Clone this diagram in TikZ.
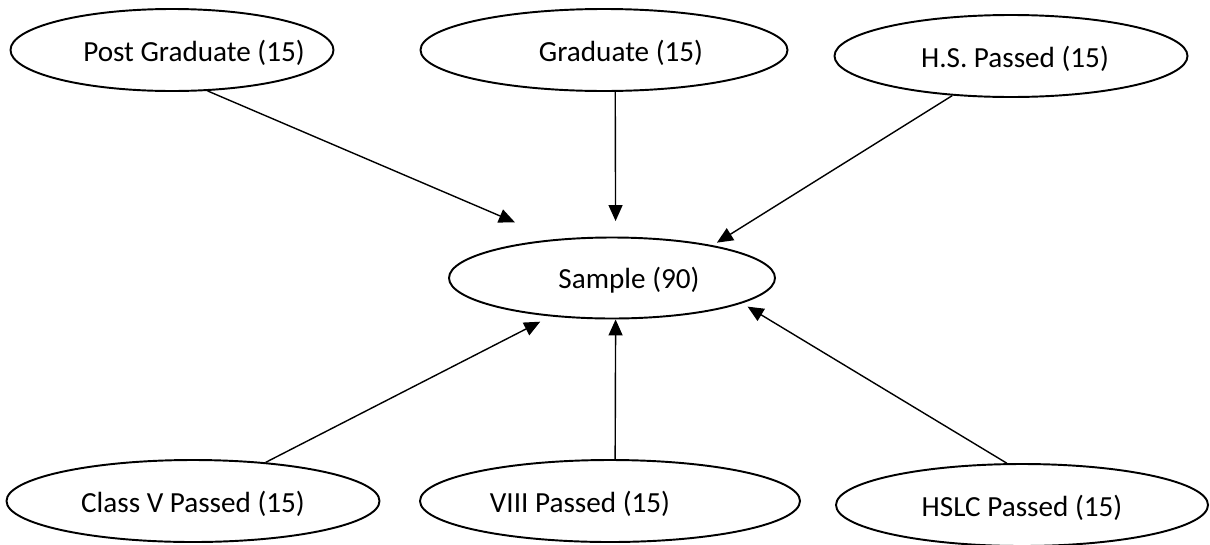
\documentclass[tikz,border=0pt]{standalone}
\usepackage{fontspec}
\setmainfont{Carlito}
\usetikzlibrary{shapes.geometric,arrows.meta}
\tikzset{
    level oval/.style = {
        shape = ellipse,
        draw  = black,
        line width = 1.1pt,
        minimum width = #1,
        minimum height = 1.64cm,
        inner sep = 0pt
    },
    sample oval/.style = {
        shape = ellipse,
        draw  = black,
        line width = 1.1pt,
        minimum width = 6.52cm,
        minimum height = 1.62cm,
        inner sep = 0pt
    },
    every label/.style = {yshift = -0.05cm}
}

\begin{document}
\begin{tikzpicture}[thick, font = \fontsize{16.6}{19}\selectfont, >={Triangle[length=3.2mm,width=2.8mm]}]
      \useasboundingbox (0,0) rectangle (24.2,-10.88);

      \node (pg) at (3.44,-1.0) [level oval = 6.46cm, label = {[xshift=0.44cm]center:Post Graduate (15)}] {};
      \node (gr) at (12.08,-1.0) [level oval = 7.34cm, label = {[xshift=0.34cm]center:Graduate (15)}] {};
      \node (hs) at (20.22,-1.12) [level oval = 7.06cm, label = {[xshift=0.08cm]center:H.S. Passed (15)}] {};

      \node (sa) at (12.24,-5.56) [sample oval, label = {[xshift=0.34cm]center:Sample (90)}] {};

      \node (cv) at (3.86,-10.02) [level oval = 7.46cm, label = {center:Class V Passed (15)}] {};
      \node (viii) at (12.2,-10.02) [level oval = 7.6cm, label = {[xshift=-0.6cm]center:VIII Passed (15)}] {};
      \node (hslc) at (20.44,-10.1) [level oval = 7.44cm, label = {center:HSLC Passed (15)}] {};

      % upper row down to the sample
      \draw [->, shorten >=0.86cm] (pg.-49) -- (sa.146.5);
      \draw [->, shorten >=0.31cm] (gr.-75) -- (sa.85.8);
      \draw [->, shorten >=0.1cm] (hs.214.8) -- (sa.18.1);

      % lower row up to the sample
      \draw [->, shorten >=0.23cm] (cv.28.9) -- (sa.212.9);
      \draw [->] (viii.83) -- (sa.-85.8);
      \draw [->, shorten >=0.13cm] (hslc.110.2) -- (sa.-11.6);
\end{tikzpicture}
\end{document}
